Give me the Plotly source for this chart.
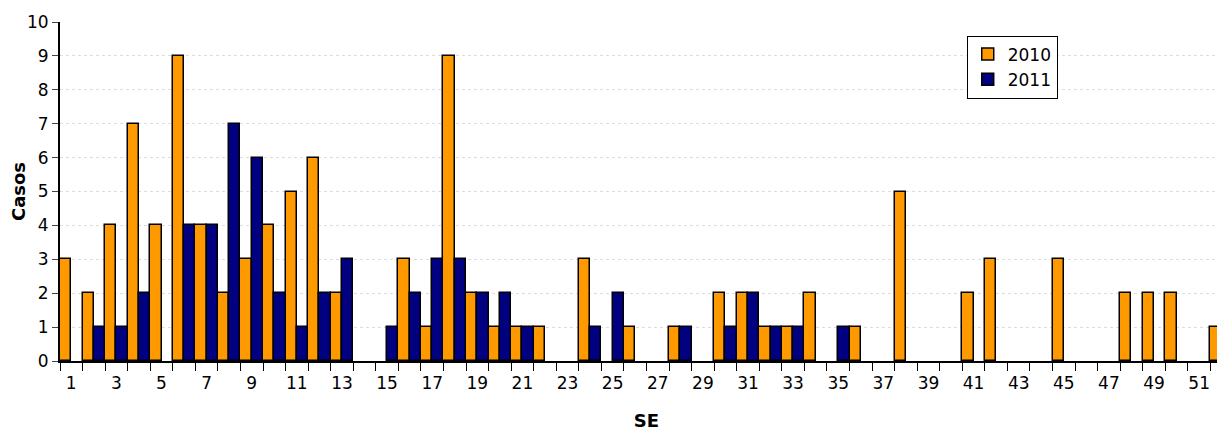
import plotly.graph_objects as go

weeks = list(range(1, 53))
casos_2010 = [3, 2, 4, 7, 4, 9, 4, 2, 3, 4, 5, 6, 2, 0, 0, 3, 1, 9, 2, 1,
              1, 1, 0, 3, 0, 1, 0, 1, 0, 2, 2, 1, 1, 2, 0, 1, 0, 5, 0, 0,
              2, 3, 0, 0, 3, 0, 0, 2, 2, 2, 0, 1]
casos_2011 = [0, 1, 1, 2, 0, 4, 4, 7, 6, 2, 1, 2, 3, 0, 1, 2, 3, 3, 2, 2,
              1, 0, 0, 1, 2, 0, 0, 1, 0, 1, 2, 1, 1, 0, 1, 0, 0, 0, 0, 0,
              0, 0, 0, 0, 0, 0, 0, 0, 0, 0, 0, 0]

def nz(vals):
    # zero weeks drawn as no bar
    return [v if v else None for v in vals]

fig = go.Figure()
fig.add_trace(go.Bar(x=weeks, y=nz(casos_2010), name="2010", marker_color="#FF9900",
                     marker_line=dict(color="black", width=1.5)))
fig.add_trace(go.Bar(x=weeks, y=nz(casos_2011), name="2011", marker_color="#000080",
                     marker_line=dict(color="black", width=1.5)))

fig.update_layout(
    width=1225, height=427, barmode="group", bargap=0, bargroupgap=0,
    plot_bgcolor="white", paper_bgcolor="white",
    margin=dict(l=52, r=0, t=14, b=74, autoexpand=False),
    font=dict(family="DejaVu Sans", size=17, color="black"),
    legend=dict(x=0.773, y=0.96, xanchor="left", yanchor="top",
                bordercolor="black", borderwidth=1, font=dict(size=17),
                itemwidth=30),
)
fig.update_xaxes(range=[0.5, 52.5], tickvals=list(range(1, 53, 2)), ticks="",
                 automargin=False, ticklabelstandoff=6,
                 showline=True, linecolor="black", linewidth=2,
                 minor=dict(tickvals=[i + 0.5 for i in range(0, 53)], ticks="outside",
                            ticklen=8, tickcolor="black"),
                 title=dict(text="<b>SE</b>", standoff=22, font=dict(size=18)))
fig.update_yaxes(range=[0, 10], dtick=1, ticks="outside", ticklen=6, automargin=False,
                 showline=True, linecolor="black", linewidth=2,
                 showgrid=True, gridcolor="#dddddd", griddash="dot",
                 title=dict(text="<b>Casos</b>", standoff=8, font=dict(size=18)))

fig.write_html("out.html")
